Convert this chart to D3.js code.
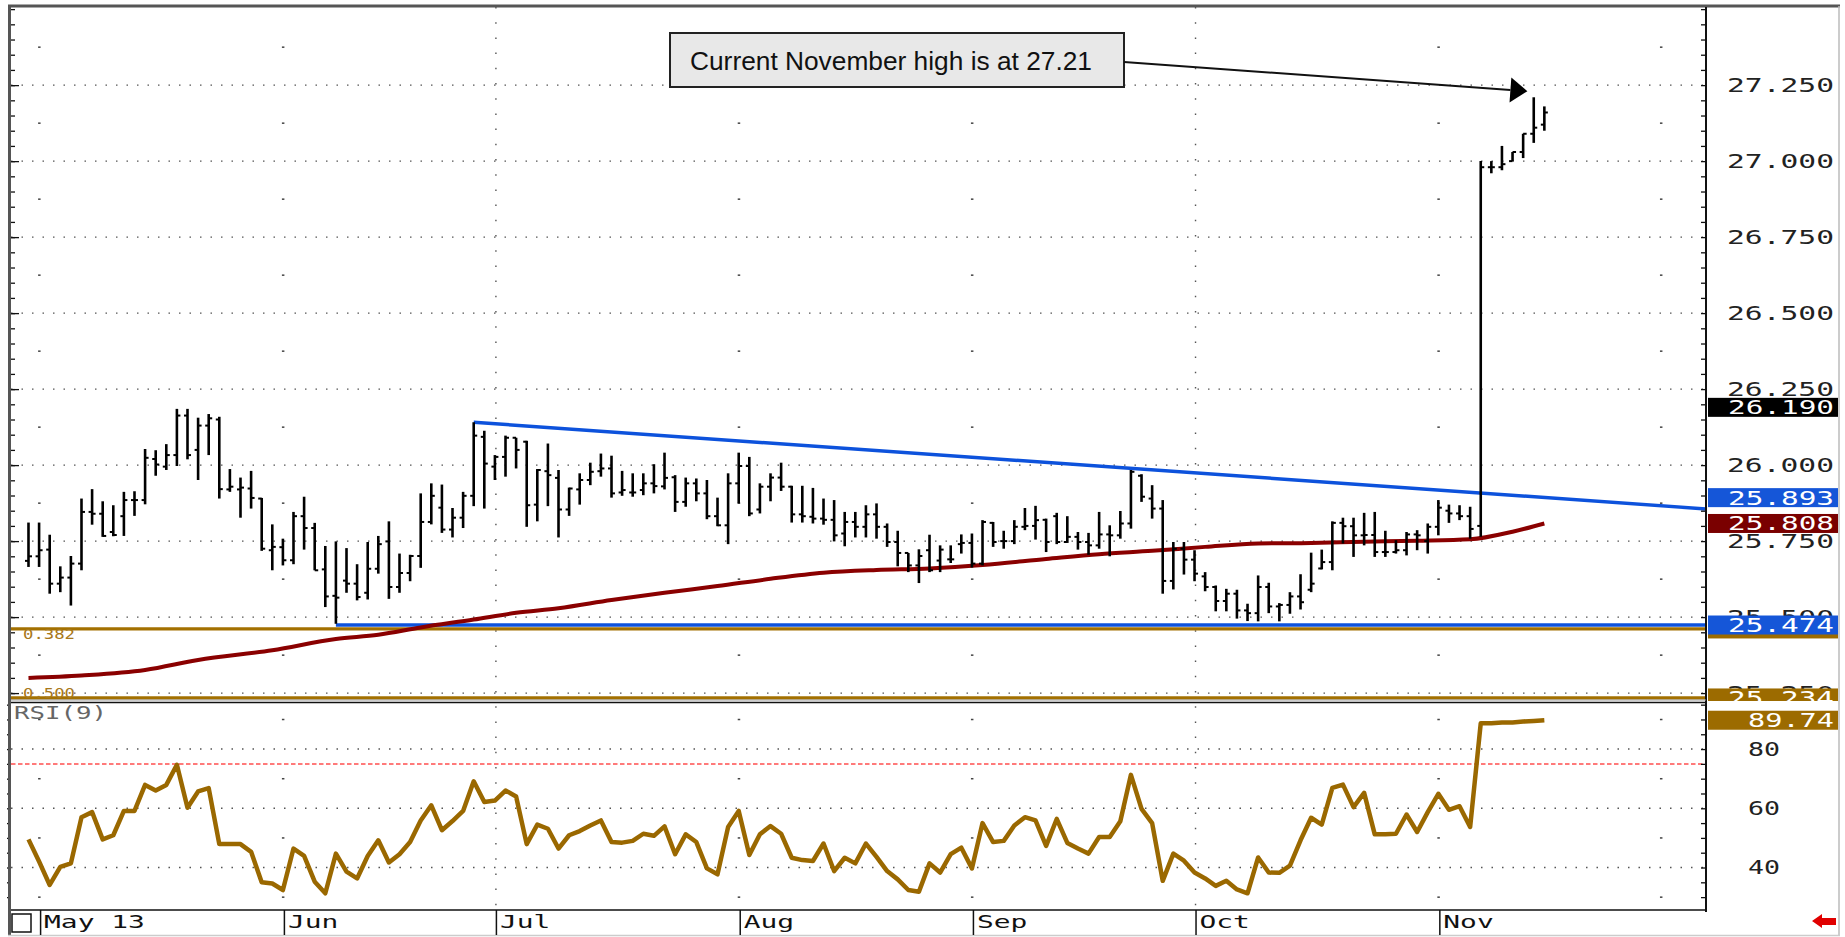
<!DOCTYPE html>
<html>
<head>
<meta charset="utf-8">
<script src="https://cdn.jsdelivr.net/npm/d3@7"></script>
<style>
  body { margin: 0; background: #fff; }
  svg { display: block; }
</style>
</head>
<body>
<div id="chart"></div>
<script>
// ---- data ----
// daily OHLC bars, index 0 = first bar (just before May 13)
var barOpen = [25.685,25.700,25.722,25.610,25.630,25.676,25.846,25.840,25.780,25.832,25.885,25.885,26.020,25.995,26.033,26.163,26.050,26.130,26.150,25.920,
  25.920,25.923,25.890,25.720,25.730,25.687,25.832,25.793,25.657,25.570,25.620,25.610,25.580,25.659,25.749,25.599,25.645,25.701,25.813,25.860,
  25.788,25.827,25.899,26.093,25.995,26.027,26.090,26.077,25.870,25.980,25.958,25.854,25.920,25.951,25.980,25.989,25.910,25.910,25.918,25.940,
  25.930,25.960,25.879,25.940,25.907,25.832,25.802,25.940,25.997,25.854,25.929,25.959,25.929,25.838,25.830,25.824,25.820,25.775,25.813,25.797,
  25.838,25.797,25.747,25.711,25.670,25.720,25.686,25.690,25.740,25.744,25.676,25.810,25.750,25.750,25.797,25.800,25.820,25.832,25.747,25.764,
  25.747,25.736,25.772,25.769,25.808,25.965,25.890,25.857,25.619,25.725,25.689,25.634,25.599,25.553,25.577,25.522,25.513,25.599,25.535,25.540,
  25.568,25.590,25.660,25.681,25.810,25.799,25.769,25.770,25.714,25.714,25.720,25.772,25.750,25.797,25.850,25.841,25.832,25.800,26.980,26.980,
  27.000,27.030,27.090,27.120];
var barHigh = [25.811,25.811,25.771,25.667,25.701,25.890,25.921,25.881,25.868,25.912,25.914,26.053,26.049,26.069,26.185,26.185,26.156,26.168,26.159,25.987,
  25.959,25.981,25.892,25.805,25.758,25.846,25.896,25.810,25.734,25.749,25.727,25.674,25.747,25.767,25.815,25.709,25.705,25.907,25.940,25.936,
  25.859,25.912,26.141,26.113,26.033,26.097,26.090,26.080,25.987,26.071,25.984,25.926,25.973,26.008,26.038,26.031,25.981,25.973,25.973,26.003,
  26.041,25.967,25.959,25.956,25.951,25.893,25.973,26.041,26.027,25.940,25.973,26.008,25.932,25.932,25.925,25.890,25.885,25.846,25.846,25.868,
  25.874,25.808,25.784,25.711,25.723,25.771,25.736,25.736,25.772,25.775,25.819,25.813,25.784,25.819,25.859,25.866,25.824,25.843,25.832,25.780,
  25.777,25.846,25.802,25.849,25.984,25.970,25.934,25.885,25.747,25.747,25.720,25.648,25.604,25.593,25.590,25.544,25.637,25.613,25.546,25.582,
  25.641,25.712,25.722,25.815,25.827,25.827,25.843,25.846,25.784,25.753,25.780,25.786,25.808,25.885,25.870,25.868,25.863,27.000,27.000,27.050,
  27.030,27.090,27.210,27.180];
var barLow = [25.665,25.665,25.577,25.582,25.538,25.654,25.804,25.764,25.766,25.767,25.833,25.871,25.965,25.984,25.997,26.019,25.951,26.033,25.890,25.912,
  25.827,25.857,25.718,25.654,25.670,25.674,25.722,25.654,25.533,25.478,25.580,25.555,25.558,25.643,25.560,25.580,25.618,25.662,25.805,25.777,
  25.762,25.793,25.865,25.857,25.951,25.962,25.989,25.797,25.815,25.865,25.762,25.833,25.870,25.934,25.962,25.893,25.899,25.896,25.901,25.907,
  25.920,25.846,25.863,25.881,25.822,25.799,25.740,25.874,25.832,25.841,25.881,25.915,25.811,25.811,25.808,25.804,25.749,25.733,25.762,25.762,
  25.758,25.731,25.667,25.648,25.612,25.648,25.648,25.678,25.709,25.663,25.670,25.731,25.725,25.740,25.786,25.755,25.714,25.740,25.744,25.722,
  25.705,25.725,25.700,25.758,25.791,25.879,25.824,25.577,25.591,25.640,25.618,25.585,25.519,25.519,25.495,25.487,25.486,25.513,25.486,25.511,
  25.525,25.582,25.657,25.654,25.742,25.698,25.736,25.698,25.698,25.709,25.703,25.720,25.709,25.769,25.810,25.819,25.758,25.764,26.960,26.970,
  27.000,27.010,27.060,27.100];
var barClose = [25.700,25.720,25.610,25.630,25.676,25.846,25.840,25.767,25.770,25.885,25.885,26.024,26.002,26.033,26.163,26.033,26.130,26.154,25.921,25.929,
  25.926,25.892,25.725,25.731,25.687,25.832,25.793,25.654,25.568,25.564,25.610,25.566,25.659,25.740,25.599,25.645,25.701,25.813,25.899,25.788,
  25.827,25.899,26.097,26.005,26.027,26.090,26.050,25.868,25.984,25.967,25.854,25.923,25.951,25.978,25.989,25.907,25.918,25.910,25.940,25.931,
  25.958,25.879,25.940,25.907,25.832,25.802,25.940,25.997,25.841,25.929,25.959,25.929,25.838,25.832,25.824,25.820,25.769,25.813,25.797,25.838,
  25.797,25.747,25.711,25.670,25.701,25.654,25.722,25.690,25.744,25.676,25.813,25.747,25.750,25.797,25.800,25.819,25.747,25.747,25.764,25.747,
  25.736,25.772,25.769,25.808,25.978,25.896,25.857,25.619,25.725,25.689,25.643,25.599,25.553,25.577,25.522,25.513,25.599,25.535,25.540,25.568,
  25.549,25.610,25.681,25.810,25.799,25.769,25.770,25.714,25.714,25.720,25.772,25.769,25.797,25.860,25.841,25.832,25.790,26.980,26.980,26.990,
  27.030,27.090,27.110,27.160];

// moving average, sampled [bar index, value]
var maIdx = [0, 5, 11, 16, 23, 29, 33, 37, 42, 46, 50, 55, 60, 65, 70, 75, 80, 85, 90, 96, 101, 106, 111, 116, 121, 126, 131, 136, 140, 143];
var maVal = [25.300, 25.308, 25.326, 25.359, 25.391, 25.428, 25.442, 25.466, 25.492, 25.514, 25.529, 25.556, 25.580, 25.602, 25.626, 25.646,
  25.655, 25.660, 25.671, 25.691, 25.707, 25.718, 25.731, 25.742, 25.744, 25.748, 25.751, 25.756, 25.781, 25.808];

// RSI(9), one value per bar
var rsiVal = [49.5,42.0,34.1,40.2,41.4,57.0,58.7,49.5,50.9,59.1,59.1,67.9,66.0,67.9,74.7,60.2,65.7,66.8,47.9,47.9,
  47.9,45.3,35.0,34.6,32.4,46.4,43.9,35.2,31.3,44.7,38.6,36.3,43.9,49.2,41.7,44.5,48.6,55.9,61.0,52.6,
  55.7,59.1,69.1,62.1,62.6,66.0,64.0,47.9,54.5,53.1,46.4,50.9,52.3,54.2,55.9,48.6,48.4,49.0,51.4,50.7,
  53.9,44.5,51.2,48.6,39.7,37.7,53.7,59.1,44.2,51.2,54.0,51.4,43.3,42.5,42.2,48.1,38.8,43.3,41.4,48.1,
  43.6,38.8,36.0,32.4,31.8,41.4,38.3,44.5,46.7,39.7,55.0,48.6,49.0,54.2,57.0,55.9,47.3,56.4,48.3,46.4,
  44.7,50.3,50.3,55.6,71.3,59.8,55.0,35.5,44.7,42.3,38.3,36.3,33.8,35.5,32.6,31.3,43.4,38.3,38.2,40.6,
  49.2,56.8,54.5,66.9,68.0,60.4,65.2,51.2,51.2,51.4,57.9,52.0,58.7,64.9,59.5,60.7,53.7,88.7,88.7,89.0,
  89.0,89.3,89.5,89.74];

// trend lines and levels
var trendIdx = [42, 158.25];
var trendVal = [26.141, 25.856];
var supportIdx = [29, 158.25];
var supportVal = 25.474;
var fibVal = [25.461, 25.234];
var fibName = ["0.382", "0.500"];

// axis text
var priceTicks = [25.25, 25.5, 25.75, 26, 26.25, 26.5, 26.75, 27, 27.25];
var rsiTicks = [40, 60, 80];
var rsiOverbought = 75;
var monthLabel = ["May 13", "Jun", "Jul", "Aug", "Sep", "Oct", "Nov"];
var monthIdx = [1, 24, 44, 67, 89, 110, 133];
var quarterIdx = [44, 110];
var dotIdx = [1, 24, 67, 89, 133, 154];

// right-hand value flags (the first one sits fully under the 25.474 flag)
var flagVal = [25.461, 25.474, 25.234, 26.190, 25.893, 25.808];
var flagColor = ["#9c6b00", "#1556d8", "#9c6b00", "#000000", "#1556d8", "#7a0000"];
var flagShowText = [false, true, true, true, true, true];
var rsiFlag = 89.74;

var noteText = "Current November high is at 27.21";

// ---- layout ----
var W = 1845, H = 937;
var plotL = 11, plotR = 1706;
var priceTop = 7, priceBot = 701, rsiTop = 703, rsiBot = 910;

var x = d3.scaleLinear().domain([-1.65, 158.25]).range([plotL, plotR]);
var yP = d3.scaleLinear().domain([25.224, 27.507]).range([priceBot, priceTop]);
var yR = d3.scaleLinear().domain([25.65, 95.56]).range([rsiBot, rsiTop]);

var svg = d3.select("#chart").append("svg")
  .attr("width", W)
  .attr("height", H)
  .style("background", "#fff");

var defs = svg.append("defs");
defs.append("clipPath").attr("id", "clipP")
  .append("rect").attr("x", plotL).attr("y", priceTop).attr("width", plotR - plotL).attr("height", priceBot - priceTop);
defs.append("clipPath").attr("id", "clipFlags")
  .append("rect").attr("x", plotR).attr("y", priceTop).attr("width", 140).attr("height", priceBot - priceTop);

// ---- grid ----
var grid = svg.append("g");
grid.selectAll(".hgP").data(priceTicks).enter().append("line")
  .attr("x1", plotL).attr("x2", plotR)
  .attr("y1", d => yP(d)).attr("y2", d => yP(d))
  .attr("stroke", "#555").attr("stroke-width", 1.4).attr("stroke-dasharray", "1.5,9");
grid.selectAll(".hgR").data(rsiTicks).enter().append("line")
  .attr("x1", plotL).attr("x2", plotR)
  .attr("y1", d => yR(d)).attr("y2", d => yR(d))
  .attr("stroke", "#555").attr("stroke-width", 1.4).attr("stroke-dasharray", "1.5,9");

// quarter vertical dotted lines
quarterIdx.forEach(function(q) {
  grid.append("line")
    .attr("x1", x(q) + 1).attr("x2", x(q) + 1)
    .attr("y1", priceTop).attr("y2", rsiBot)
    .attr("stroke", "#555").attr("stroke-width", 1.4).attr("stroke-dasharray", "1.5,13.7");
});

// month dots at half levels
var halfP = d3.range(0, 9).map(k => 25.375 + k * 0.25);
var halfR = [30, 50, 70, 90];
dotIdx.forEach(function(m) {
  grid.selectAll(null).data(halfP).enter().append("rect")
    .attr("x", x(m) - 1).attr("y", d => yP(d) - 0.7)
    .attr("width", 2.5).attr("height", 1.5).attr("fill", "#444");
  grid.selectAll(null).data(halfR).enter().append("rect")
    .attr("x", x(m) - 1).attr("y", d => yR(d) - 0.7)
    .attr("width", 2.5).attr("height", 1.5).attr("fill", "#444");
});

// overbought line
svg.append("line")
  .attr("x1", plotL).attr("x2", plotR)
  .attr("y1", yR(rsiOverbought)).attr("y2", yR(rsiOverbought))
  .attr("stroke", "#ff7a7a").attr("stroke-width", 2).attr("stroke-dasharray", "4.5,2.5");

// ---- price panel ----
var pg = svg.append("g").attr("clip-path", "url(#clipP)");

// fibonacci levels
pg.selectAll(".fib").data(fibVal).enter().append("line")
  .attr("x1", plotL).attr("x2", plotR)
  .attr("y1", d => yP(d)).attr("y2", d => yP(d))
  .attr("stroke", "#a37000").attr("stroke-width", 3.2);
pg.selectAll(".fibTxt").data(fibVal).enter().append("text")
  .attr("x", 23).attr("y", (d, i) => yP(d) + (i === 0 ? 10 : 0))
  .attr("font-family", "DejaVu Sans Mono").attr("font-size", 14)
  .attr("fill", "#a8781a").attr("textLength", 52).attr("lengthAdjust", "spacingAndGlyphs")
  .text((d, i) => fibName[i]);

// blue lines
pg.append("line")
  .attr("x1", x(supportIdx[0])).attr("x2", x(supportIdx[1]))
  .attr("y1", yP(supportVal)).attr("y2", yP(supportVal))
  .attr("stroke", "#0d52dc").attr("stroke-width", 3.5);
pg.append("line")
  .attr("x1", x(trendIdx[0])).attr("x2", x(trendIdx[1]))
  .attr("y1", yP(trendVal[0])).attr("y2", yP(trendVal[1]))
  .attr("stroke", "#0d52dc").attr("stroke-width", 3.5);

// moving average
var maLine = d3.line()
  .x((d, i) => x(maIdx[i]))
  .y(d => yP(d))
  .curve(d3.curveMonotoneX);
pg.append("path").datum(maVal)
  .attr("d", maLine)
  .attr("fill", "none").attr("stroke", "#8a0000").attr("stroke-width", 4);

// OHLC bars
var bars = pg.selectAll(".bar").data(barHigh).enter().append("g");
bars.append("line")
  .attr("x1", (d, i) => x(i)).attr("x2", (d, i) => x(i))
  .attr("y1", d => yP(d)).attr("y2", (d, i) => yP(barLow[i]))
  .attr("stroke", "#000").attr("stroke-width", 2.6);
bars.append("line")
  .attr("x1", (d, i) => x(i) - 3.5).attr("x2", (d, i) => x(i))
  .attr("y1", (d, i) => yP(barOpen[i])).attr("y2", (d, i) => yP(barOpen[i]))
  .attr("stroke", "#000").attr("stroke-width", 2);
bars.append("line")
  .attr("x1", (d, i) => x(i)).attr("x2", (d, i) => x(i) + 3.5)
  .attr("y1", (d, i) => yP(barClose[i])).attr("y2", (d, i) => yP(barClose[i]))
  .attr("stroke", "#000").attr("stroke-width", 2);

// ---- RSI panel ----
var rsiLine = d3.line()
  .x((d, i) => x(i))
  .y(d => yR(d));
svg.append("path").datum(rsiVal)
  .attr("d", rsiLine)
  .attr("fill", "none").attr("stroke", "#9a6800").attr("stroke-width", 4.5)
  .attr("stroke-linejoin", "round");

svg.append("text")
  .attr("x", 14).attr("y", 719)
  .attr("font-family", "DejaVu Sans Mono").attr("font-size", 17)
  .attr("fill", "#666").attr("textLength", 93).attr("lengthAdjust", "spacingAndGlyphs")
  .text("RSI(9)");

// ---- axis ticks ----
var minorP = d3.range(0, 46).map(k => +(25.25 + k * 0.05).toFixed(2));
var minorR = d3.range(30, 96, 5);
function tickAxis(axis, tx, vals, size) {
  var g = svg.append("g").attr("transform", `translate(${tx},0)`)
    .call(axis.tickValues(vals).tickSize(size).tickFormat(""));
  g.select(".domain").remove();
  g.selectAll("line").attr("stroke", "#111").attr("stroke-width", 1.3);
}
tickAxis(d3.axisRight(yP), plotL, minorP, 4);
tickAxis(d3.axisRight(yP), plotL, priceTicks, 8);
tickAxis(d3.axisLeft(yP), plotR, minorP, 5);
tickAxis(d3.axisLeft(yR), plotL, minorR, 4);
tickAxis(d3.axisLeft(yR), plotR, minorR, 5);

// ---- frame ----
svg.append("line").attr("x1", 8).attr("x2", 1840).attr("y1", 6).attr("y2", 6)
  .attr("stroke", "#555").attr("stroke-width", 3);
svg.append("line").attr("x1", 9.5).attr("x2", 9.5).attr("y1", 5).attr("y2", 936)
  .attr("stroke", "#555").attr("stroke-width", 3);
svg.append("line").attr("x1", plotR).attr("x2", plotR).attr("y1", 7).attr("y2", 912)
  .attr("stroke", "#111").attr("stroke-width", 2);
svg.append("line").attr("x1", 1839).attr("x2", 1839).attr("y1", 6).attr("y2", 936)
  .attr("stroke", "#bbb").attr("stroke-width", 1.5);
svg.append("line").attr("x1", 8).attr("x2", 1840).attr("y1", 935.5).attr("y2", 935.5)
  .attr("stroke", "#ccc").attr("stroke-width", 1.5);
svg.append("line").attr("x1", plotL).attr("x2", plotR).attr("y1", 700).attr("y2", 700)
  .attr("stroke", "#999").attr("stroke-width", 1);
svg.append("line").attr("x1", plotL).attr("x2", plotR).attr("y1", 702.5).attr("y2", 702.5)
  .attr("stroke", "#111").attr("stroke-width", 1.5);
svg.append("line").attr("x1", plotL).attr("x2", plotR).attr("y1", rsiBot).attr("y2", rsiBot)
  .attr("stroke", "#111").attr("stroke-width", 1.5);

// ---- right price labels ----
var pl = svg.append("g").attr("transform", `translate(${plotR},0)`)
  .call(d3.axisRight(yP).tickValues(priceTicks).tickSize(0).tickPadding(21).tickFormat(d3.format(".3f")));
pl.select(".domain").remove();
pl.selectAll("text")
  .attr("font-family", "DejaVu Sans Mono").attr("font-size", 19).attr("fill", "#222")
  .attr("textLength", 107).attr("lengthAdjust", "spacingAndGlyphs");

var rl = svg.append("g").attr("transform", `translate(${plotR},0)`)
  .call(d3.axisRight(yR).tickValues(rsiTicks).tickSize(0).tickPadding(42).tickFormat(d3.format("d")));
rl.select(".domain").remove();
rl.selectAll("text")
  .attr("font-family", "DejaVu Sans Mono").attr("font-size", 19).attr("fill", "#222")
  .attr("textLength", 32).attr("lengthAdjust", "spacingAndGlyphs");

// value flags
var flags = svg.append("g").attr("clip-path", "url(#clipFlags)")
  .selectAll("g").data(flagVal).enter().append("g");
flags.append("rect")
  .attr("x", plotR + 2).attr("y", d => yP(d) - 9.5)
  .attr("width", 130).attr("height", 19)
  .attr("fill", (d, i) => flagColor[i]);
flags.filter((d, i) => flagShowText[i]).append("text")
  .attr("x", 1728).attr("y", d => yP(d) + 7)
  .attr("font-family", "DejaVu Sans Mono").attr("font-size", 19).attr("fill", "#fff")
  .attr("textLength", 106).attr("lengthAdjust", "spacingAndGlyphs")
  .text(d => d3.format(".3f")(d));

svg.append("rect")
  .attr("x", plotR + 2).attr("y", yR(rsiFlag) - 9.5)
  .attr("width", 130).attr("height", 19).attr("fill", "#9c6b00");
svg.append("text")
  .attr("x", 1748).attr("y", yR(rsiFlag) + 7)
  .attr("font-family", "DejaVu Sans Mono").attr("font-size", 19).attr("fill", "#fff")
  .attr("textLength", 86).attr("lengthAdjust", "spacingAndGlyphs")
  .text(d3.format(".2f")(rsiFlag));

// ---- date axis ----
var dg = svg.append("g");
dg.selectAll(".sep").data(monthIdx).enter().append("line")
  .attr("x1", d => x(d) + 1.5).attr("x2", d => x(d) + 1.5)
  .attr("y1", rsiBot).attr("y2", 935)
  .attr("stroke", "#111").attr("stroke-width", 1.5);
dg.selectAll(".mtxt").data(monthLabel).enter().append("text")
  .attr("x", (d, i) => x(monthIdx[i]) + 5)
  .attr("y", 928)
  .attr("font-family", "DejaVu Sans Mono").attr("font-size", 17).attr("fill", "#111")
  .attr("textLength", d => d.length * 16.8).attr("lengthAdjust", "spacingAndGlyphs")
  .text(d => d);

// checkbox and red arrow
svg.append("rect").attr("x", 12).attr("y", 914).attr("width", 19).attr("height", 18)
  .attr("fill", "#fff").attr("stroke", "#111").attr("stroke-width", 1.5);
svg.append("polygon")
  .attr("points", "1812,921 1822,914 1822,918 1836,918 1836,925 1822,925 1822,928")
  .attr("fill", "#e00000");

// ---- annotation ----
var note = svg.append("g");
note.append("rect")
  .attr("x", 670).attr("y", 33).attr("width", 454).attr("height", 54)
  .attr("fill", "#e8e8e8").attr("stroke", "#222").attr("stroke-width", 2);
note.append("text")
  .attr("x", 690).attr("y", 70)
  .attr("font-family", "Liberation Sans, Arial, sans-serif").attr("font-size", 26).attr("fill", "#111")
  .attr("textLength", 402).attr("lengthAdjust", "spacingAndGlyphs")
  .text(noteText);

var tipX = x(141.4), tipY = yP(27.23);
var sx = 1124, sy = 62;
var ang = Math.atan2(tipY - sy, tipX - sx);
var hl = 17, hw = 12.5;
var bx = tipX - hl * Math.cos(ang), by = tipY - hl * Math.sin(ang);
note.append("line")
  .attr("x1", sx).attr("y1", sy).attr("x2", bx).attr("y2", by)
  .attr("stroke", "#111").attr("stroke-width", 2);
note.append("polygon")
  .attr("points", [
    [tipX, tipY],
    [bx - hw * Math.sin(ang), by + hw * Math.cos(ang)],
    [bx + hw * Math.sin(ang), by - hw * Math.cos(ang)]
  ].map(p => p.join(",")).join(" "))
  .attr("fill", "#000");
</script>
</body>
</html>
